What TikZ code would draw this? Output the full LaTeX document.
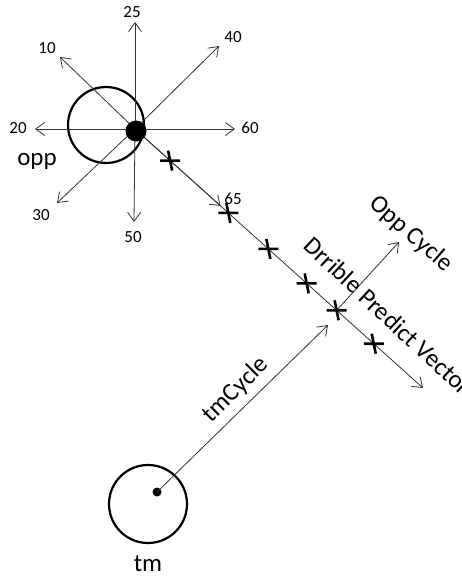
\documentclass[tikz,border=0pt]{standalone}
\usepackage{fontspec}
\setmainfont{Carlito}
\usetikzlibrary{arrows.meta}

\begin{document}
\begin{tikzpicture}[x=1pt,y=-1pt,
    vec/.style={draw=black!80,line width=0.8pt,-{Straight Barb[length=9pt,width=13pt,line width=0.8pt]}},
    num/.style={font=\fontsize{17}{20}\selectfont},
    lbl/.style={font=\fontsize{25}{30}\selectfont},
    player/.style={draw,circle,line width=2.2pt,inner sep=0pt},
    crossbar/.style={line width=2.6pt}]
  \useasboundingbox (0,0) rectangle (462,577);
  % opponent with the ball
  \node[player,minimum size=76pt] (opp) at (106,125) {};
  \coordinate (ctr) at (135,129);
  \coordinate (d10) at (60,57);
  \coordinate (d20) at (35,129);
  \coordinate (d25) at (135,22);
  \coordinate (d30) at (57,203);
  \coordinate (d40) at (219,46);
  \coordinate (d50) at (134,222);
  \coordinate (d60) at (235,129);
  \foreach \d in {d10,d20,d25,d30,d40,d50,d60}
    \draw[vec] (ctr) -- (\d);
  \node[num] (n10) at (47,48) {10};
  \node[num] (n20) at (18,128) {20};
  \node[num] (n25) at (132,12) {25};
  \node[num] (n30) at (41,215) {30};
  \node[num] (n40) at (233,37) {40};
  \node[num] (n50) at (133,237) {50};
  \node[num] (n60) at (250,128) {60};
  \node[lbl] (oppname) at (37,161) {opp};
  % dribble vector
  \coordinate (dv) at (423,388);
  \path (ctr) -- (dv) coordinate[pos=.297] (d65)
    coordinate[pos=.122] (x1) coordinate[pos=.324] (x2)
    coordinate[pos=.463] (x3) coordinate[pos=.596] (x4)
    coordinate[pos=.700] (x5) coordinate[pos=.829] (x6);
  \draw[vec] (ctr) -- (d65);
  \draw[vec] (ctr) -- (dv);
  \node[num] (n65) at (233,199) {65};
  \foreach \c in {x1,x2,x3,x4,x5,x6}
    \draw[crossbar] ([xshift=-10pt]\c) -- ([xshift=10pt]\c)
      ([shift={(-2pt,10pt)}]\c) -- ([shift={(2pt,-10pt)}]\c);
  \node[circle,fill=black,minimum size=21pt,inner sep=0pt] (ball) at (136,131) {};
  % team mate
  \node[player,minimum size=78pt] (tm) at (148,504) {};
  \node[circle,fill=black,minimum size=9pt,inner sep=0pt] (tmdot) at (157,492) {};
  \node[lbl] (tmname) at (148,564) {tm};
  \coordinate (tc) at (328,325);
  \draw[vec] (tmdot.center) -- (tc);
  \coordinate (oc) at (399,242);
  \draw[vec] (x5) -- (oc);
  \node[lbl,rotate=45] (tmcyc) at (236,390) {tmCycle};
  \node[lbl,rotate=-41] (oppcyc) at (411,234) {Opp Cycle};
  \node[lbl,rotate=-43] (dpv) at (388,316) {Drrible Predict Vector};
\end{tikzpicture}
\end{document}
